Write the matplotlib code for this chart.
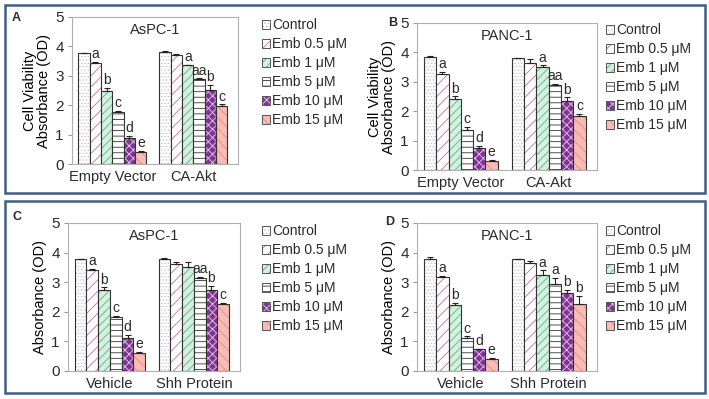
import numpy as np
import matplotlib.pyplot as plt
from matplotlib.patches import Rectangle, Patch

plt.rcParams['font.family'] = ['Liberation Sans', 'DejaVu Sans']
plt.rcParams['hatch.linewidth'] = 0.6
plt.rcParams['text.color'] = '#2a2a2a'
plt.rcParams['ytick.labelcolor'] = '#2a2a2a'
plt.rcParams['xtick.labelcolor'] = '#2a2a2a'

treatments = ['Control', 'Emb 0.5 μM', 'Emb 1 μM', 'Emb 5 μM', 'Emb 10 μM', 'Emb 15 μM']
groups_akt = ['Empty Vector', 'CA-Akt']
groups_shh = ['Vehicle', 'Shh Protein']

# panel A - AsPC-1, Akt
a_vals = [[3.77, 3.43, 2.48, 1.76, 0.89, 0.40], [3.80, 3.72, 3.36, 2.88, 2.53, 1.98]]
a_err = [[0.02, 0.05, 0.12, 0.05, 0.07, 0.04], [0.05, 0.02, 0.02, 0.04, 0.17, 0.05]]
a_marks = [['', 'a', 'b', 'c', 'd', 'e'], ['', '', 'a', 'aa', 'b', 'c']]

# panel B - PANC-1, Akt
b_vals = [[3.85, 3.25, 2.43, 1.37, 0.74, 0.31], [3.80, 3.65, 3.50, 2.88, 2.35, 1.82]]
b_err = [[0.02, 0.10, 0.08, 0.10, 0.08, 0.03], [0.02, 0.12, 0.06, 0.05, 0.13, 0.10]]
b_marks = [['', 'a', 'b', 'c', 'd', 'e'], ['', '', 'a', 'aa', 'b', 'c']]

# panel C - AsPC-1, Shh
c_vals = [[3.77, 3.41, 2.75, 1.82, 1.12, 0.62], [3.77, 3.63, 3.52, 3.13, 2.75, 2.27]]
c_err = [[0.02, 0.04, 0.08, 0.04, 0.10, 0.03], [0.04, 0.04, 0.15, 0.06, 0.12, 0.04]]
c_marks = [['', 'a', 'b', 'c', 'd', 'e'], ['', '', '', 'aa', 'b', 'c']]

# panel D - PANC-1, Shh
d_vals = [[3.80, 3.17, 2.24, 1.12, 0.73, 0.41], [3.77, 3.65, 3.25, 2.95, 2.65, 2.25]]
d_err = [[0.04, 0.04, 0.07, 0.05, 0.02, 0.04], [0.01, 0.05, 0.15, 0.20, 0.10, 0.30]]
d_marks = [['', 'a', 'b', 'c', 'd', 'e'], ['', '', 'a', 'a', 'b', 'b']]

fills = ['white', 'white', '#d4f0de', 'white', '#7e3590', '#f8bcb4']
hatch_cols = ['#c4c4c4', '#cf6a9c', '#5fb082', '#333333', '#eccaf2', '#e88a80']
hatches = ['.....', '///', '////', '---', 'xxxx', '\\\\\\']
bw = 0.14


def draw_panel(ax, groups, vals, errs, marks, title, ylabel):
    x = np.arange(len(groups))
    for i in range(len(treatments)):
        pos = x + (i - 2.5) * bw
        h = [v[i] for v in vals]
        e = [v[i] for v in errs]
        ax.bar(pos, h, bw, color=fills[i], edgecolor=hatch_cols[i], hatch=hatches[i], linewidth=0)
        ax.bar(pos, h, bw, color='none', edgecolor='#333333', linewidth=0.8)
        ax.errorbar(pos, h, yerr=[np.zeros(len(e)), e], fmt='none', ecolor='#222222',
                    elinewidth=0.8, capsize=2.5, capthick=0.8)
        for j in range(len(groups)):
            if marks[j][i]:
                ax.text(pos[j], h[j] + e[j] + 0.02, marks[j][i], ha='center', va='bottom',
                        fontsize=10)
    ax.set_xlim(-0.5, 1.55)
    ax.set_ylim(0, 5)
    ax.set_yticks([0, 1, 2, 3, 4, 5])
    ax.set_xticks(x)
    ax.set_xticklabels(groups, fontsize=10.5)
    ax.tick_params(axis='x', length=0, pad=4)
    ax.tick_params(axis='y', labelsize=11, length=3, color='#999999', pad=3)
    for s in ax.spines.values():
        s.set_color('#b0b0b0')
        s.set_linewidth(0.8)
    ax.text(0.5, 0.96, title, transform=ax.transAxes, ha='center', va='top', fontsize=10.5)
    ax.set_ylabel(ylabel, fontsize=10.5, labelpad=3, linespacing=1.0)


fig = plt.figure(figsize=(7.09, 3.99), dpi=100)

# panel boxes
for y0, y1 in [(5, 193), (201, 393)]:
    fig.patches.append(Rectangle((5 / 709, 1 - y1 / 399), 700 / 709, (y1 - y0) / 399,
                                 transform=fig.transFigure, fill=False,
                                 edgecolor='#3e5f86', linewidth=1.8))

axA = fig.add_axes([72 / 709, 1 - 164 / 399, 166 / 709, 147 / 399])
axB = fig.add_axes([417 / 709, 1 - 170 / 399, 180 / 709, 147 / 399])
axC = fig.add_axes([68 / 709, 1 - 371 / 399, 172 / 709, 148 / 399])
axD = fig.add_axes([417 / 709, 1 - 371 / 399, 180 / 709, 148 / 399])

draw_panel(axA, groups_akt, a_vals, a_err, a_marks, 'AsPC-1', 'Cell Viability\nAbsorbance (OD)')
draw_panel(axB, groups_akt, b_vals, b_err, b_marks, 'PANC-1', 'Cell Viability\nAbsorbance (OD)')
draw_panel(axC, groups_shh, c_vals, c_err, c_marks, 'AsPC-1', 'Absorbance (OD)')
draw_panel(axD, groups_shh, d_vals, d_err, d_marks, 'PANC-1', 'Absorbance (OD)')

handles = [(Patch(facecolor=fills[i], edgecolor=hatch_cols[i], hatch=hatches[i], linewidth=0),
            Patch(facecolor='none', edgecolor='#555555', linewidth=0.7))
           for i in range(len(treatments))]
for lx, ly in [(262, 18), (606, 23), (262, 224), (606, 224)]:
    fig.legend(handles, treatments, loc='upper left', bbox_to_anchor=(lx / 709, 1 - ly / 399),
               frameon=False, fontsize=10, handlelength=0.6, handleheight=0.6,
               handletextpad=0.15, labelspacing=0.36, borderpad=0, borderaxespad=0)

for lab, lx, ly in [('A', 12, 18), ('B', 388, 23), ('C', 12, 217), ('D', 385, 222)]:
    fig.text(lx / 709, 1 - ly / 399, lab, fontsize=9, fontweight='bold', va='center')

fig.savefig('out.png', dpi=100)
